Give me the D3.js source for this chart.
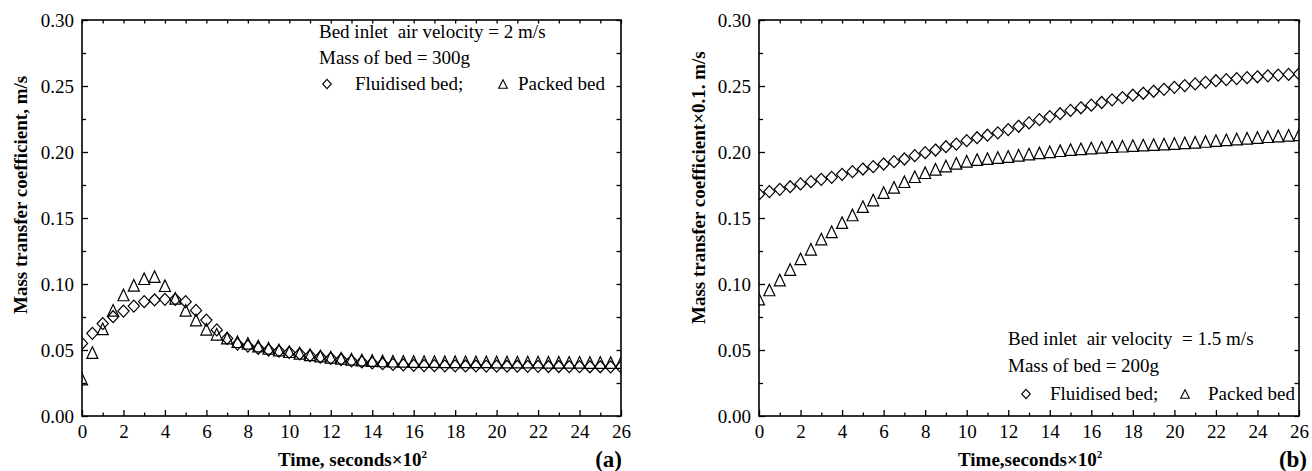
<!DOCTYPE html>
<html><head><meta charset="utf-8">
<script src="https://cdn.jsdelivr.net/npm/d3@7"></script>
<style>
body{margin:0;background:#fff}
text{font-family:"Liberation Serif","Times New Roman",serif;fill:#000}
</style>
</head><body>
<svg id="c" width="1312" height="471"></svg>
<script>
// ---------- data ----------
const time = [0,0.5,1,1.5,2,2.5,3,3.5,4,4.5,5,5.5,6,6.5,7,7.5,8,8.5,9,9.5,10,10.5,11,11.5,12,12.5,13,13.5,14,14.5,15,15.5,16,16.5,17,17.5,18,18.5,19,19.5,20,20.5,21,21.5,22,22.5,23,23.5,24,24.5,25,25.5,26];

const fluidA = [0.055,0.0626,0.0700,0.0752,0.0795,0.0833,0.0866,0.0879,0.0884,0.0884,0.0866,0.0800,0.0727,0.0652,0.0588,0.0545,0.0530,0.0513,0.0500,0.0492,0.0482,0.0470,0.0457,0.0447,0.0437,0.0428,0.0418,0.0410,0.0402,0.0396,0.0391,0.0387,0.0384,0.0382,0.0381,0.0380,0.0380,0.0379,0.0379,0.0378,0.0378,0.0377,0.0377,0.0376,0.0376,0.0375,0.0375,0.0374,0.0374,0.0373,0.0373,0.0372,0.0372];
const packedA = [0.028,0.048,0.066,0.080,0.0917,0.0990,0.1040,0.1056,0.0987,0.0891,0.0800,0.0727,0.0657,0.0619,0.0590,0.0563,0.0550,0.0530,0.0513,0.0500,0.0487,0.0475,0.0464,0.0454,0.0445,0.0437,0.0430,0.0424,0.0420,0.0417,0.0415,0.0414,0.0413,0.0412,0.0412,0.0411,0.0411,0.0410,0.0410,0.0410,0.0409,0.0409,0.0408,0.0408,0.0408,0.0407,0.0407,0.0406,0.0406,0.0405,0.0405,0.0404,0.0404];

const fluidB = [0.168,0.1700,0.1717,0.1737,0.1758,0.1775,0.1793,0.1808,0.1831,0.1851,0.1871,0.1889,0.1909,0.1927,0.1947,0.1972,0.1995,0.2015,0.2040,0.2060,0.2086,0.2108,0.2127,0.2145,0.2170,0.2195,0.2220,0.2245,0.2268,0.2290,0.2315,0.2335,0.2355,0.2375,0.2395,0.2412,0.2430,0.2445,0.2460,0.2475,0.2490,0.2503,0.2516,0.2528,0.2540,0.2548,0.2556,0.2563,0.2570,0.2577,0.2583,0.2588,0.2592];
const packedB = [0.0886,0.0955,0.1030,0.1110,0.1190,0.1263,0.1340,0.1396,0.1465,0.1523,0.1586,0.1636,0.1692,0.1732,0.1775,0.1813,0.1843,0.1869,0.1894,0.1914,0.1930,0.1942,0.1950,0.1958,0.1966,0.1975,0.1984,0.1993,0.2002,0.2010,0.2018,0.2024,0.2030,0.2035,0.2040,0.2044,0.2048,0.2052,0.2056,0.2060,0.2064,0.2069,0.2074,0.2080,0.2086,0.2092,0.2098,0.2104,0.2110,0.2116,0.2121,0.2126,0.2130];

const xMajor = [0,2,4,6,8,10,12,14,16,18,20,22,24,26];
const xMinor = [1,3,5,7,9,11,13,15,17,19,21,23,25];
const yMajor = [0,0.05,0.10,0.15,0.20,0.25,0.30];
const yMinor = [0.025,0.075,0.125,0.175,0.225,0.275];
const yTickLabels = ["0.00","0.05","0.10","0.15","0.20","0.25","0.30"];

const panelA = {
  id:"a", x0:82, x1:621, fluid:fluidA, packed:packedA,
  yTitle:"Mass transfer coefficient, m/s", yTitleX:20, yTitleStart:314,
  xTitle:"Time, seconds\u00d710", xTitleX:278,
  tag:"(a)", tagX:622,
  legend:["Bed inlet  air velocity = 2 m/s","Mass of bed = 300g"],
  legX:319, legY:[38,64,90], legDia:327, legFl:355, legTri:503, legPk:518
};
const panelB = {
  id:"b", x0:759, x1:1299, fluid:fluidB, packed:packedB,
  yTitle:"Mass transfer coefficient\u00d70.1. m/s", yTitleX:698, yTitleStart:324,
  xTitle:"Time,seconds\u00d710", xTitleX:958,
  tag:"(b)", tagX:1307,
  legend:["Bed inlet  air velocity  = 1.5 m/s","Mass of bed = 200g"],
  legX:1008, legY:[345,372,400], legDia:1026, legFl:1050, legTri:1185, legPk:1208
};

const svg = d3.select("#c");
const yTop = 20, yBot = 416;
const FS = 19;

function diamondPath(w,h){return `M0,${-h}L${w},0L0,${h}L${-w},0Z`;}
function trianglePath(w,h){return `M0,${-h}L${w},${h}L${-w},${h}Z`;}

function drawPanel(p){
  const x = d3.scaleLinear().domain([0,26]).range([p.x0,p.x1]);
  const y = d3.scaleLinear().domain([0,0.30]).range([yBot,yTop]);
  const g = svg.append("g");

  g.append("clipPath").attr("id","clip"+p.id).append("rect")
    .attr("x",p.x0).attr("y",yTop).attr("width",p.x1-p.x0).attr("height",yBot-yTop);

  // axes
  const styleAxis = sel => { sel.select(".domain").remove(); sel.selectAll("line").attr("stroke","#000").attr("stroke-width",1.3); sel.selectAll("text").attr("font-size",FS).attr("font-family","Liberation Serif"); };
  g.append("g").attr("transform",`translate(0,${yBot})`)
    .call(d3.axisBottom(x).tickValues(xMajor).tickFormat(d3.format("d")).tickSizeInner(-6).tickSizeOuter(0).tickPadding(8.5)).call(styleAxis);
  g.append("g").attr("transform",`translate(0,${yBot})`)
    .call(d3.axisBottom(x).tickValues(xMinor).tickFormat("").tickSizeInner(-3.5).tickSizeOuter(0)).call(styleAxis);
  g.append("g").attr("transform",`translate(0,${yTop})`)
    .call(d3.axisTop(x).tickValues(xMajor.concat(xMinor)).tickFormat("").tickSizeInner(-3.5).tickSizeOuter(0)).call(styleAxis);
  g.append("g").attr("transform",`translate(${p.x0},0)`)
    .call(d3.axisLeft(y).tickValues(yMajor).tickFormat((d,i)=>yTickLabels[i]).tickSizeInner(-6).tickSizeOuter(0).tickPadding(8)).call(styleAxis);
  g.append("g").attr("transform",`translate(${p.x0},0)`)
    .call(d3.axisLeft(y).tickValues(yMinor).tickFormat("").tickSizeInner(-4).tickSizeOuter(0)).call(styleAxis);
  g.append("g").attr("transform",`translate(${p.x1},0)`)
    .call(d3.axisRight(y).tickValues(yMajor.concat(yMinor)).tickFormat("").tickSizeInner(-4.5).tickSizeOuter(0)).call(styleAxis);

  g.append("rect").attr("x",p.x0).attr("y",yTop).attr("width",p.x1-p.x0).attr("height",yBot-yTop)
    .attr("fill","none").attr("stroke","#000").attr("stroke-width",1.6);

  // data
  const dg = g.append("g").attr("clip-path",`url(#clip${p.id})`);
  dg.selectAll("path.tri").data(time).join("path").attr("class","tri")
    .attr("d",trianglePath(5.5,5.8))
    .attr("transform",(d,i)=>`translate(${x(d)},${y(p.packed[i])})`)
    .attr("fill","none").attr("stroke","#000").attr("stroke-width",1.2);
  dg.selectAll("path.dia").data(time).join("path").attr("class","dia")
    .attr("d",diamondPath(5.6,6))
    .attr("transform",(d,i)=>`translate(${x(d)},${y(p.fluid[i])})`)
    .attr("fill","none").attr("stroke","#000").attr("stroke-width",1.2);

  // titles
  g.append("text").attr("transform",`translate(${p.yTitleX},${p.yTitleStart}) rotate(-90)`)
    .attr("dy","0.35em").attr("font-size",FS).attr("font-weight","bold").text(p.yTitle);
  const xt = g.append("text").attr("x",p.xTitleX).attr("y",466).attr("font-size",FS).attr("font-weight","bold");
  xt.append("tspan").text(p.xTitle);
  xt.append("tspan").attr("dy",-8).attr("font-size",11).text("2");
  g.append("text").attr("x",p.tagX).attr("y",467).attr("text-anchor","end")
    .attr("font-size",23).attr("font-weight","bold").text(p.tag);

  // legend
  p.legend.forEach((t,i)=>{
    g.append("text").attr("x",p.legX).attr("y",p.legY[i]).attr("font-size",FS)
      .style("white-space","pre").text(t);
  });
  const ly = p.legY[2];
  g.append("path").attr("d",diamondPath(4.3,4.6)).attr("transform",`translate(${p.legDia},${ly-6})`)
    .attr("fill","none").attr("stroke","#000").attr("stroke-width",1.1);
  g.append("text").attr("x",p.legFl).attr("y",ly).attr("font-size",FS).text("Fluidised bed;");
  g.append("path").attr("d",trianglePath(4.3,4.2)).attr("transform",`translate(${p.legTri},${ly-6})`)
    .attr("fill","none").attr("stroke","#000").attr("stroke-width",1.1);
  g.append("text").attr("x",p.legPk).attr("y",ly).attr("font-size",FS).text("Packed bed");
}

drawPanel(panelA);
drawPanel(panelB);
</script>
</body></html>
